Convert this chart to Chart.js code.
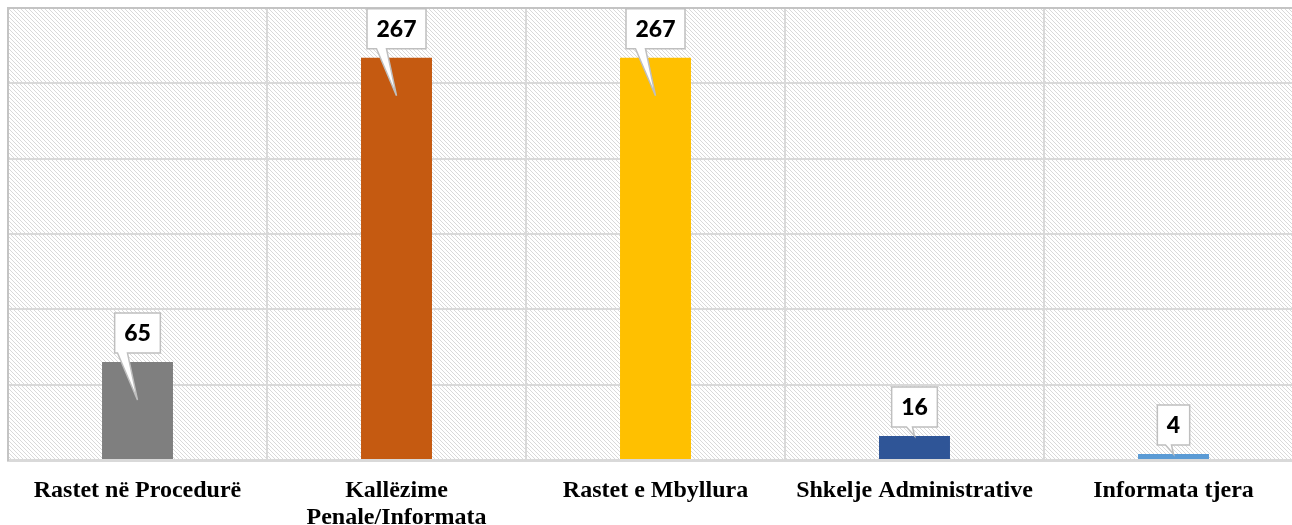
<!DOCTYPE html>
<html>
<head>
<meta charset="utf-8">
<script src="https://cdn.jsdelivr.net/npm/chart.js@4"></script>
<style>
    html, body { margin: 0; padding: 0; background: #fff; overflow: hidden; }
    #wrap { position: absolute; left: 0; top: 0; width: 1304px; height: 525px; }
</style>
</head>
<body>
<div id="wrap"><canvas id="chart"></canvas></div>
<script>
const categories = [
    'Rastet në Procedurë',
    ['Kallëzime', 'Penale/Informata'],
    'Rastet e Mbyllura',
    'Shkelje Administrative',
    'Informata tjera',
];
const values = [65, 267, 267, 16, 4];
const barColors = ['#7f7f7f', '#c55a11', '#ffc000', '#2f5597', '#5b9bd5'];
const yMax = 300;
const yStep = 50;

// diagonal hatch for the plot background
function makeHatch() {
    const tile = document.createElement('canvas');
    tile.width = 8;
    tile.height = 8;
    const c = tile.getContext('2d');
    c.fillStyle = '#ffffff';
    c.fillRect(0, 0, 8, 8);
    c.fillStyle = '#d9d9d9';
    for (let i = 0; i < 8; i++) {
        c.fillRect(i, i, 1, 1);
        c.fillRect(i, (i + 4) % 8, 1, 1);
    }
    return tile;
}

const hatchBg = {
    id: 'hatchBg',
    beforeDraw(chart) {
        const { ctx, chartArea: a } = chart;
        ctx.save();
        ctx.fillStyle = ctx.createPattern(makeHatch(), 'repeat');
        ctx.fillRect(a.left, a.top, a.right - a.left, a.bottom - a.top);
        ctx.restore();
    },
};

// callout boxes above each bar
const callouts = {
    id: 'callouts',
    afterDatasetsDraw(chart) {
        const { ctx } = chart;
        const meta = chart.getDatasetMeta(0);
        ctx.save();
        ctx.font = '900 23px Lato';
        ctx.textAlign = 'center';
        ctx.textBaseline = 'middle';
        meta.data.forEach((bar, i) => {
            const text = String(values[i]);
            const cx = bar.x;
            const top = bar.y;
            const h = bar.base - bar.y;
            const w = ctx.measureText(text).width + 19;
            const bh = 40;
            const bottom = top - 9;
            const boxTop = bottom - bh;
            const left = cx - w / 2;
            const right = cx + w / 2;
            const tall = h > 60;
            const tipY = tall ? top + 38 : top;
            const tipX = cx;
            const b1 = tall ? cx - 20 : cx - 8;
            const b2 = tall ? cx - 10 : cx - 2;

            ctx.beginPath();
            ctx.moveTo(left, boxTop);
            ctx.lineTo(right, boxTop);
            ctx.lineTo(right, bottom);
            ctx.lineTo(b2, bottom);
            ctx.lineTo(tipX, tipY);
            ctx.lineTo(b1, bottom);
            ctx.lineTo(left, bottom);
            ctx.closePath();
            ctx.fillStyle = '#ffffff';
            ctx.fill();
            ctx.lineWidth = 1.5;
            ctx.strokeStyle = '#bfbfbf';
            ctx.stroke();

            ctx.fillStyle = '#000000';
            ctx.fillText(text, cx, boxTop + bh / 2 + 1);
        });
        ctx.restore();
    },
};

new Chart(document.getElementById('chart'), {
    type: 'bar',
    data: {
        labels: categories,
        datasets: [
            {
                data: values,
                backgroundColor: barColors,
                borderWidth: 0,
                barPercentage: 0.274,
                categoryPercentage: 1,
            },
        ],
    },
    options: {
        responsive: true,
        maintainAspectRatio: false,
        animation: false,
        layout: { padding: { left: 8, top: 8, right: 1, bottom: 0 } },
        plugins: {
            legend: { display: false },
            tooltip: { enabled: false },
        },
        scales: {
            x: {
                offset: true,
                grid: {
                    offset: true,
                    drawTicks: false,
                    lineWidth: 2,
                    color: (c) => (c.index === 0 ? '#c4c4c4' : '#d9d9d9'),
                },
                border: { display: true, color: '#d9d9d9', width: 3 },
                ticks: {
                    padding: 17,
                    color: '#000',
                    maxRotation: 0,
                    autoSkip: false,
                    font: { family: 'Liberation Serif', weight: 'bold', size: 24, lineHeight: '27px' },
                },
                afterFit: (s) => { s.height = 65; },
            },
            y: {
                min: 0,
                max: yMax,
                ticks: { stepSize: yStep, display: false },
                grid: {
                    drawTicks: false,
                    lineWidth: 2,
                    color: (c) => (c.tick && c.tick.value === yMax ? '#c4c4c4' : '#d9d9d9'),
                },
                border: { display: true, color: '#c4c4c4', width: 2 },
                afterFit: (s) => { s.width = 0; },
            },
        },
    },
    plugins: [hatchBg, callouts],
});
</script>
</body>
</html>
